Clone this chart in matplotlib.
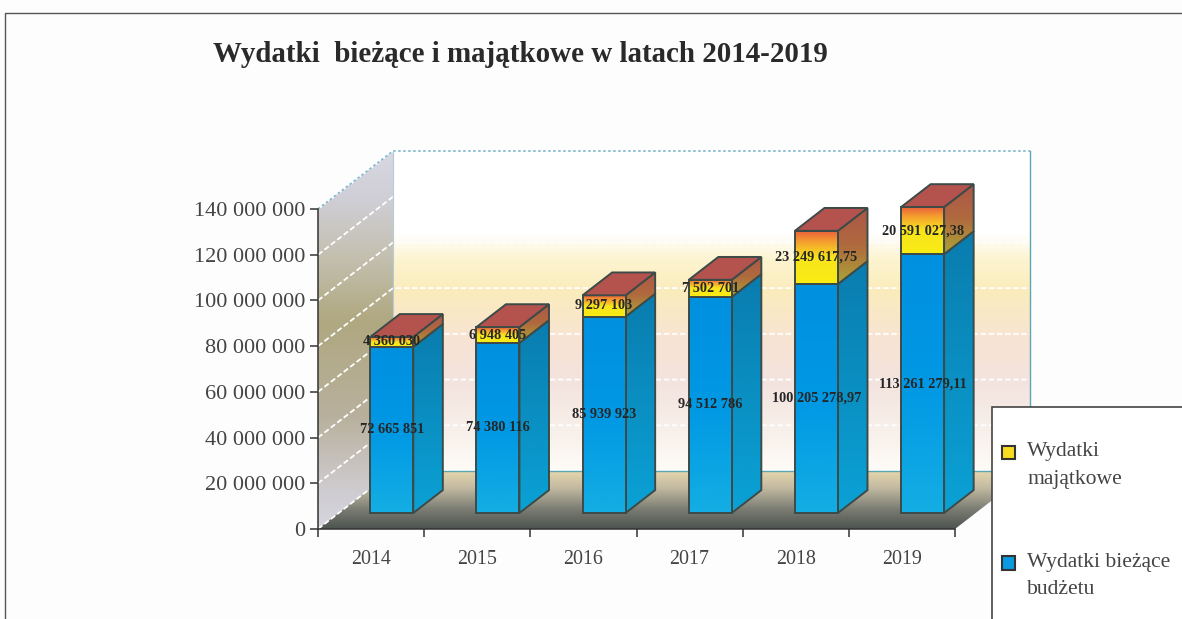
#!/usr/bin/env python3
import numpy as np
import matplotlib
matplotlib.use("Agg")
import matplotlib.pyplot as plt
from matplotlib.colors import LinearSegmentedColormap
from matplotlib.patches import Patch, Polygon, Rectangle

plt.rcParams["font.family"] = ["Liberation Serif", "DejaVu Serif"]

years = ["2014", "2015", "2016", "2017", "2018", "2019"]
biezace = [72665851, 74380116, 85939923, 94512786, 100205278.97, 113261279.11]
majatkowe = [4360030, 6948405, 9297103, 7502701, 23249617.75, 20591027.38]
biezace_labels = ["72 665 851", "74 380 116", "85 939 923", "94 512 786",
                  "100 205 278,97", "113 261 279,11"]
majatkowe_labels = ["4 360 030", "6 948 405", "9 297 103", "7 502 701",
                    "23 249 617,75", "20 591 027,38"]
yticks = [0, 20e6, 40e6, 60e6, 80e6, 100e6, 120e6, 140e6]
ytick_labels = ["0", "20 000 000", "40 000 000", "60 000 000", "80 000 000",
                "100 000 000", "120 000 000", "140 000 000"]

W, H = 1182, 619
YMAX = 140e6
XMAX = len(years)
# fake 3D: how far the back wall is shifted from the front plane, in data units
DEPTH_X = 75 / 106.2
DEPTH_Y = 58 / (320 / YMAX)
BAR_W = 0.405
BAR_FRONT = 0.276   # fraction of the depth where a bar starts
BAR_BACK = 0.67     # ... and ends
EDGE = "#3c4a48"

fig = plt.figure(figsize=(W / 100, H / 100), dpi=100, facecolor="#fdfdfd")
ax = fig.add_axes([318 / W, (H - 529) / H, 637 / W, 320 / H])
ax.set_autoscale_on(False)
ax.set_xlim(0, XMAX)
ax.set_ylim(0, YMAX)
ax.patch.set_visible(False)


def grad_fill(xs, ys, colors, z, edge=None, lw=0.0):
    """Polygon filled with a vertical gradient; colors run bottom -> top."""
    cmap = LinearSegmentedColormap.from_list("g", colors)
    im = ax.imshow(np.linspace(1, 0, 256)[:, None], cmap=cmap, vmin=0, vmax=1,
                   extent=[min(xs), max(xs), min(ys), max(ys)], aspect="auto",
                   origin="upper", zorder=z, interpolation="bilinear")
    poly = Polygon(list(zip(xs, ys)), closed=True, facecolor="none",
                   edgecolor=edge if edge else "none", lw=lw, zorder=z + 0.1,
                   clip_on=False)
    ax.add_patch(poly)
    im.set_clip_box(fig.bbox)
    im.set_clip_path(poly)


# ---- walls and floor ---------------------------------------------------------
grad_fill([DEPTH_X, XMAX + DEPTH_X, XMAX + DEPTH_X, DEPTH_X],
          [DEPTH_Y, DEPTH_Y, YMAX + DEPTH_Y, YMAX + DEPTH_Y],
          [(0.0, "#fefcf8"), (0.10, "#f9f2ec"), (0.28, "#f3e3de"), (0.42, "#f8e4d2"),
           (0.56, "#fbecbc"), (0.66, "#fdf4d0"), (0.74, "#ffffff"), (1.0, "#ffffff")], 1)
grad_fill([0, DEPTH_X, DEPTH_X, 0],
          [0, DEPTH_Y, YMAX + DEPTH_Y, YMAX],
          [(0.0, "#d6d6e0"), (0.10, "#cfccd0"), (0.30, "#b8b09c"), (0.55, "#b0a880"),
           (0.72, "#c4c0b0"), (0.88, "#d0cfd8"), (1.0, "#d8d8e2")], 1)
grad_fill([0, XMAX, XMAX + DEPTH_X, DEPTH_X], [0, 0, DEPTH_Y, DEPTH_Y],
          [(0.0, "#4c524e"), (0.35, "#7c7e74"), (0.7, "#c0b8a0"), (1.0, "#e6d6ac")], 2)

for v in yticks[1:]:
    ax.plot([0, DEPTH_X, XMAX + DEPTH_X], [v, v + DEPTH_Y, v + DEPTH_Y], color="white",
            lw=1.3, ls=(0, (3, 1.5)), clip_on=False, zorder=3)
ax.plot([0, DEPTH_X], [0, DEPTH_Y], color="white", lw=1.3, ls=(0, (3, 1.5)),
        clip_on=False, zorder=3)
ax.plot([DEPTH_X, XMAX + DEPTH_X, XMAX + DEPTH_X], [DEPTH_Y, DEPTH_Y, YMAX + DEPTH_Y],
        color="#5aa6b4", lw=1.0, clip_on=False, zorder=3)
ax.plot([0, DEPTH_X, XMAX + DEPTH_X], [YMAX, YMAX + DEPTH_Y, YMAX + DEPTH_Y],
        color="#7cb8cc", lw=1.2, ls=(0, (1.5, 1.5)), clip_on=False, zorder=3)
ax.plot([DEPTH_X, DEPTH_X], [DEPTH_Y, YMAX + DEPTH_Y], color="#b4ccd8", lw=0.8,
        clip_on=False, zorder=3)


# ---- bars --------------------------------------------------------------------
def box_side(x1, y0, y1, colors, z):
    bx = (BAR_BACK - BAR_FRONT) * DEPTH_X
    by = (BAR_BACK - BAR_FRONT) * DEPTH_Y
    grad_fill([x1, x1 + bx, x1 + bx, x1], [y0, y0 + by, y1 + by, y1], colors, z,
              edge=EDGE, lw=1.4)


for i in range(len(years)):
    x0 = i + 0.5 - BAR_W / 2 + BAR_FRONT * DEPTH_X
    x1 = x0 + BAR_W
    base = BAR_FRONT * DEPTH_Y
    b_top = base + biezace[i]
    m_top = b_top + majatkowe[i]
    bx = (BAR_BACK - BAR_FRONT) * DEPTH_X
    by = (BAR_BACK - BAR_FRONT) * DEPTH_Y
    z = 5 + i

    box_side(x1, base, b_top, ["#0aa2d6", "#0a7cae"], z)
    box_side(x1, b_top, m_top, ["#aaa636", "#b06a3e", "#ac5648"], z + 0.2)
    grad_fill([x0, x1, x1, x0], [base, base, b_top, b_top],
              ["#14aee4", "#0098e4", "#0090e0"], z + 0.3, edge=EDGE, lw=1.4)
    grad_fill([x0, x1, x1, x0], [b_top, b_top, m_top, m_top],
              [(0.0, "#f8ec14"), (0.5, "#f8e41c"), (0.8, "#f49a30"), (1.0, "#e85a3c")],
              z + 0.4, edge=EDGE, lw=1.4)
    ax.add_patch(Polygon([(x0, m_top), (x1, m_top), (x1 + bx, m_top + by), (x0 + bx, m_top + by)],
                         closed=True, facecolor="#b4524e", edgecolor=EDGE, lw=1.4,
                         clip_on=False, zorder=z + 0.5))
    xc = (x0 + x1) / 2
    ax.text(xc, base + biezace[i] / 2, biezace_labels[i], ha="center", va="center",
            fontsize=10.3, fontweight="bold", color="#262626", zorder=20, clip_on=False)
    ax.text(xc, b_top + majatkowe[i] / 2, majatkowe_labels[i], ha="center", va="center",
            fontsize=10.3, fontweight="bold", color="#262626", zorder=20, clip_on=False)

# ---- axes --------------------------------------------------------------------
for s in ("top", "right"):
    ax.spines[s].set_visible(False)
for s in ("left", "bottom"):
    ax.spines[s].set_color("#333333")
    ax.spines[s].set_linewidth(1.1)
    ax.spines[s].set_zorder(30)
ax.set_yticks(yticks)
ax.set_yticklabels(ytick_labels, fontsize=16, color="#444444")
ax.set_xticks(range(XMAX + 1))
ax.set_xticklabels([])
ax.set_xticks(np.arange(XMAX) + 0.5, years, minor=True, fontsize=14.4, color="#444444")
ax.tick_params(axis="x", which="major", length=6, width=1.1, color="#333333")
ax.tick_params(axis="x", which="minor", length=0, pad=15)
ax.tick_params(axis="y", length=6, width=1.1, color="#333333", pad=3)

fig.text(213 / W, 1 - 54 / H, "Wydatki  bieżące i majątkowe w latach 2014-2019", fontsize=20.9,
         fontweight="bold", color="#2a2a2a", va="center", ha="left")

# ---- legend box, runs off the page like in the scan ----------------------------
fig.add_artist(Rectangle((992 / W, -0.05), 0.3, (H - 407) / H + 0.05, transform=fig.transFigure,
                         facecolor="white", edgecolor="#444444", lw=1.2, zorder=3))
handles = [Patch(facecolor="#f8dc20", edgecolor="#333333", lw=1.5),
           Patch(facecolor="#0a9ae0", edgecolor="#333333", lw=1.5)]
leg = fig.legend(handles, ["Wydatki\nmajątkowe", "Wydatki bieżące\nbudżetu"], frameon=False,
                 loc="upper left", bbox_to_anchor=(998 / W, 1 - 438 / H), borderaxespad=0,
                 borderpad=0.2, fontsize=15.6, handlelength=0.6, handleheight=0.6,
                 handletextpad=0.55, labelspacing=2.95, labelcolor="#444444", alignment="left")
for t in leg.get_texts():
    t.set_linespacing(1.6)
# the swatch sits on the first text line, not mid height
for h in leg.legend_handles:
    h.set_y(h.get_y() + 9)

# page frame of the scan
fig.add_artist(plt.Line2D([5 / W, 5 / W, 1], [0, 1 - 13 / H, 1 - 13 / H],
                          transform=fig.transFigure, color="#555555", lw=1.0, zorder=2))

fig.savefig("out.png", dpi=100, facecolor=fig.get_facecolor())
